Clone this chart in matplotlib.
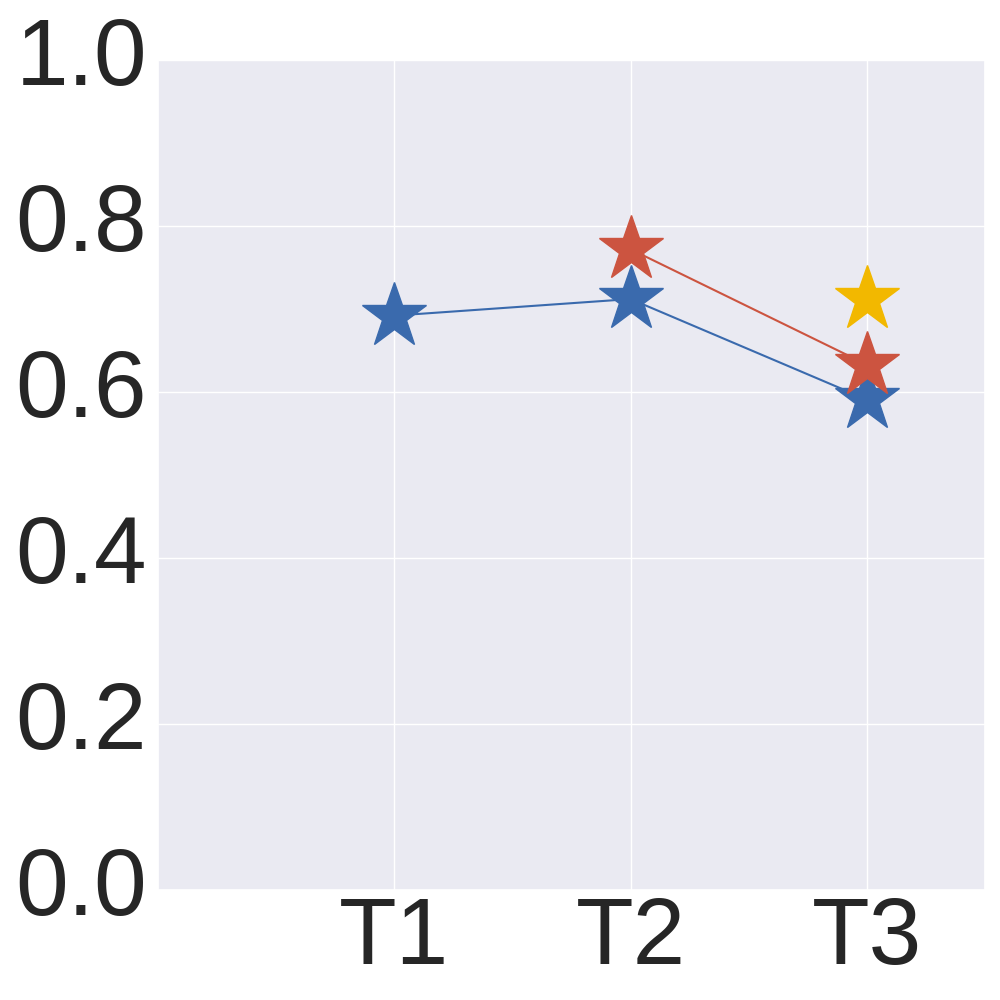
import matplotlib
matplotlib.use("Agg")
import matplotlib.pyplot as plt
import seaborn as sns

sns.set_theme(style="darkgrid")
plt.rcParams['font.family'] = ['Liberation Sans', 'DejaVu Sans']

labels = ["T1", "T2", "T3"]
pos = [1, 2, 3]

blue_x = [1, 2, 3]
blue_y = [0.692, 0.712, 0.591]
red_x = [2, 3]
red_y = [0.772, 0.633]
yellow_x = [3]
yellow_y = [0.712]

fig, ax = plt.subplots(figsize=(10, 10), dpi=100)
ax.plot(blue_x, blue_y, color="#3a6aad", marker="*", markersize=49, linewidth=1.5)
ax.plot(red_x, red_y, color="#cc5440", marker="*", markersize=49, linewidth=1.5)
ax.plot(yellow_x, yellow_y, color="#f2b800", marker="*", markersize=49, linewidth=1.5)

ax.set_xlim(0, 3.5)
ax.set_ylim(0, 1.0)
ax.set_xticks(pos)
ax.set_xticklabels(labels)
ax.set_yticks([0, 0.2, 0.4, 0.6, 0.8, 1.0])
ax.set_yticklabels(["0.0", "0.2", "0.4", "0.6", "0.8", "1.0"], va="center")
ax.tick_params(labelsize=68, colors="#262626", length=0)
ax.tick_params(axis="y", pad=8)

fig.subplots_adjust(left=0.158, right=0.985, top=0.94, bottom=0.11)
fig.savefig("out.png")
